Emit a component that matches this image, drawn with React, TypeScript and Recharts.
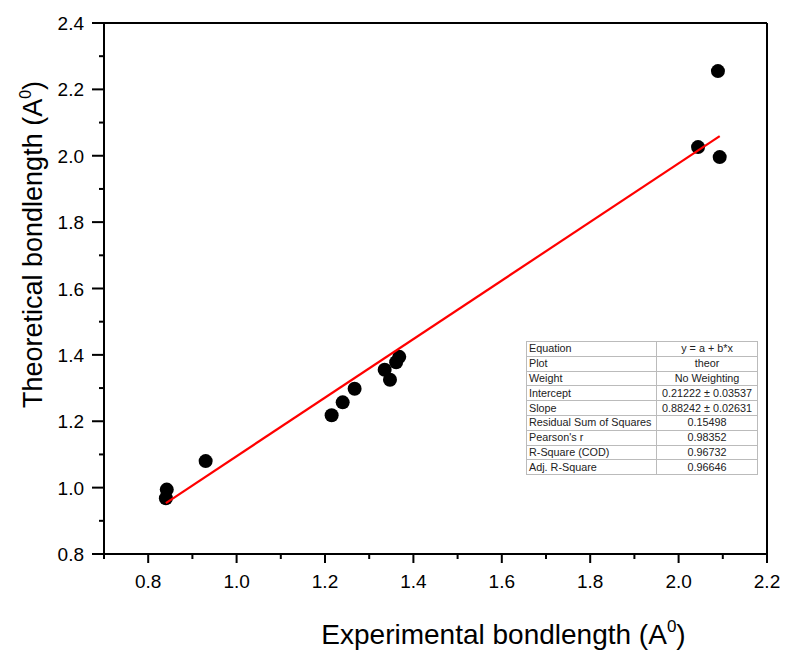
import React from 'react';
import { ScatterChart, Scatter, XAxis, YAxis, ReferenceLine, Label } from 'recharts';

// measured points (experimental vs theoretical bond length)
const experimental = [0.840, 0.842, 0.930, 1.215, 1.240, 1.267, 1.335, 1.347, 1.361, 1.368, 2.044, 2.093, 2.089];
const theoretical = [0.968, 0.994, 1.080, 1.218, 1.257, 1.298, 1.355, 1.325, 1.378, 1.394, 2.026, 1.996, 2.255];

const intercept = 0.21222;
const slope = 0.88242;

const xTicks = [0.7, 0.8, 0.9, 1.0, 1.1, 1.2, 1.3, 1.4, 1.5, 1.6, 1.7, 1.8, 1.9, 2.0, 2.1, 2.2];
const yTicks = [0.8, 0.9, 1.0, 1.1, 1.2, 1.3, 1.4, 1.5, 1.6, 1.7, 1.8, 1.9, 2.0, 2.1, 2.2, 2.3, 2.4];

const tableLabels = ['Equation', 'Plot', 'Weight', 'Intercept', 'Slope', 'Residual Sum of Squares', "Pearson's r", 'R-Square (COD)', 'Adj. R-Square'];
const tableValues = ['y = a + b*x', 'theor', 'No Weighting', '0.21222 \u00b1 0.03537', '0.88242 \u00b1 0.02631', '0.15498', '0.98352', '0.96732', '0.96646'];

const FONT = "Arial, 'Liberation Sans', sans-serif";

const points = experimental.map((x, i) => ({ x, y: theoretical[i] }));
const xMin = Math.min(...experimental);
const xMax = Math.max(...experimental);
const fitLine = [
    { x: xMin, y: intercept + slope * xMin },
    { x: xMax, y: intercept + slope * xMax },
];

const isMajor = (v: number) => Math.round(v * 10) % 2 === 0;

const XTick = (props: any) => {
    const x = Number(props.x);
    const y = Number(props.y);
    const v = props.payload.value;
    const major = isMajor(v);
    return (
        <g>
            <rect x={x - 1} y={y} width={2} height={major ? 9 : 5} fill="#000" />
            {major && (
                <text x={x} y={y + 34} textAnchor="middle" fontSize={19} fontFamily={FONT} fill="#000">
                    {v.toFixed(1)}
                </text>
            )}
        </g>
    );
};

const YTick = (props: any) => {
    const x = Number(props.x);
    const y = Number(props.y);
    const v = props.payload.value;
    const major = isMajor(v);
    const len = major ? 12 : 5;
    return (
        <g>
            <rect x={x - len} y={y - 1} width={len} height={2} fill="#000" />
            {major && (
                <text x={x - 20} y={y + 7} textAnchor="end" fontSize={19} fontFamily={FONT} fill="#000">
                    {v.toFixed(1)}
                </text>
            )}
        </g>
    );
};

const XTitle = (props: any) => {
    const { viewBox } = props;
    const cx = viewBox.x + viewBox.width / 2 + 68;
    return (
        <text x={cx} y={644} textAnchor="middle" fontSize={28} fontFamily={FONT} fill="#000">
            Experimental bondlength (A<tspan dy={-12} fontSize={17}>0</tspan><tspan dy={12}>)</tspan>
        </text>
    );
};

const YTitle = (props: any) => {
    const { viewBox } = props;
    const cy = viewBox.y + viewBox.height / 2 - 44;
    return (
        <text x={0} y={0} transform={`translate(42, ${cy}) rotate(-90)`} textAnchor="middle" fontSize={27} fontFamily={FONT} fill="#000">
            Theoretical bondlength (A<tspan dy={-11} fontSize={16}>0</tspan><tspan dy={11}>)</tspan>
        </text>
    );
};

const Dot = (props: any) => <circle cx={props.cx} cy={props.cy} r={7} fill="#000" />;

export default function App() {
    return (
        <div style={{ position: 'relative', width: 785, height: 651, background: '#fff', fontFamily: FONT }}>
            <style>{'body{margin:0}'}</style>
            <ScatterChart width={785} height={651} margin={{ top: 23, right: 18, bottom: 0, left: 0 }}>
                <XAxis
                    type="number"
                    dataKey="x"
                    domain={[0.7, 2.2]}
                    ticks={xTicks}
                    interval={0}
                    height={97}
                    tickSize={0}
                    tickMargin={0}
                    tickLine={false}
                    tick={<XTick />}
                    axisLine={{ stroke: '#000', strokeWidth: 2 }}
                    allowDataOverflow
                >
                    <Label content={<XTitle />} />
                </XAxis>
                <YAxis
                    type="number"
                    dataKey="y"
                    domain={[0.8, 2.4]}
                    ticks={yTicks}
                    interval={0}
                    width={104}
                    tickSize={0}
                    tickMargin={0}
                    tickLine={false}
                    tick={<YTick />}
                    axisLine={{ stroke: '#000', strokeWidth: 2 }}
                    allowDataOverflow
                >
                    <Label content={<YTitle />} />
                </YAxis>
                <ReferenceLine y={2.4} stroke="#000" strokeWidth={2} />
                <ReferenceLine x={2.2} stroke="#000" strokeWidth={2} />
                <Scatter data={points} shape={<Dot />} isAnimationActive={false} />
                <Scatter data={fitLine} line={{ stroke: '#ff0000', strokeWidth: 2.2 }} shape={() => null} isAnimationActive={false} />
            </ScatterChart>
            <table
                style={{
                    position: 'absolute',
                    left: 526,
                    top: 341,
                    width: 232,
                    borderCollapse: 'collapse',
                    fontSize: 10.8,
                    fontFamily: FONT,
                    color: '#222',
                    border: '1px solid #555',
                    background: '#fff',
                }}
            >
                <tbody>
                    {tableLabels.map((label, i) => (
                        <tr key={label} style={{ height: 14.8 }}>
                            <td style={{ width: 125, padding: '0 2px', border: '1px solid #bbb', lineHeight: '13px', whiteSpace: 'nowrap' }}>{label}</td>
                            <td style={{ padding: 0, border: '1px solid #bbb', textAlign: 'center', lineHeight: '13px', whiteSpace: 'nowrap' }}>{tableValues[i]}</td>
                        </tr>
                    ))}
                </tbody>
            </table>
        </div>
    );
}
